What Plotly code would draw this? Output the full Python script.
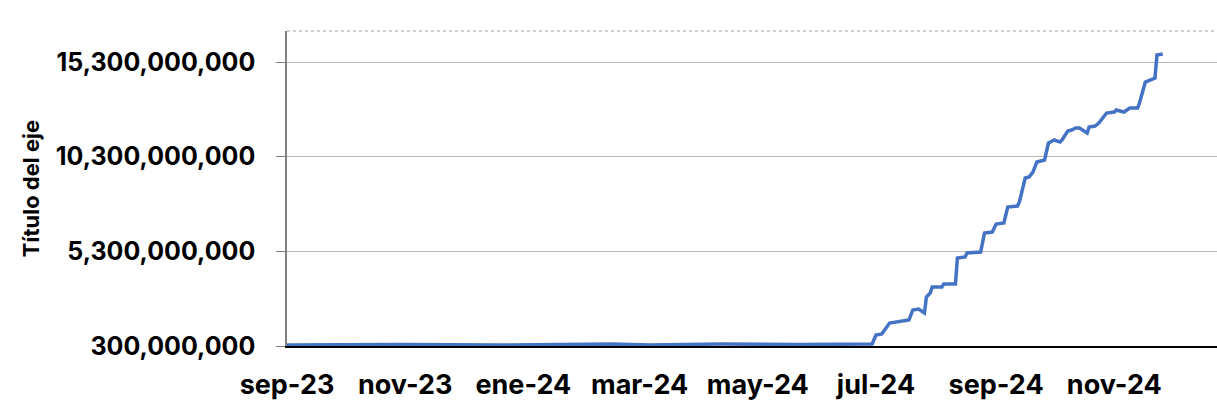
import plotly.graph_objects as go

# ---- data ----
dates = [
    "2023-09-01", "2023-10-29", "2023-12-19", "2024-02-16", "2024-03-06",
    "2024-04-12", "2024-05-22", "2024-06-29",
    "2024-07-01", "2024-07-04", "2024-07-08", "2024-07-12", "2024-07-13",
    "2024-07-18", "2024-07-20", "2024-07-23", "2024-07-26", "2024-07-27",
    "2024-07-29", "2024-07-30", "2024-08-04", "2024-08-05", "2024-08-11",
    "2024-08-12", "2024-08-16", "2024-08-17", "2024-08-24", "2024-08-26",
    "2024-08-30", "2024-09-01", "2024-09-05", "2024-09-07", "2024-09-12",
    "2024-09-13", "2024-09-16", "2024-09-18", "2024-09-20", "2024-09-22",
    "2024-09-26", "2024-09-28", "2024-09-30", "2024-10-01", "2024-10-04",
    "2024-10-05", "2024-10-08", "2024-10-10", "2024-10-12", "2024-10-14",
    "2024-10-18", "2024-10-19", "2024-10-22", "2024-10-24", "2024-10-28",
    "2024-11-01", "2024-11-02", "2024-11-06", "2024-11-09", "2024-11-13",
    "2024-11-14", "2024-11-17", "2024-11-22", "2024-11-23", "2024-11-26",
]
values = [
    353e6, 379e6, 353e6, 406e6, 353e6,
    406e6, 379e6, 406e6,
    881e6, 934e6, 1515e6, 1568e6, 1620e6,
    1673e6, 2202e6, 2254e6, 2043e6, 2888e6,
    3099e6, 3416e6, 3416e6, 3575e6, 3575e6,
    4948e6, 5001e6, 5212e6, 5265e6, 6269e6,
    6321e6, 6744e6, 6797e6, 7642e6, 7695e6,
    7906e6, 9174e6, 9227e6, 9491e6, 10019e6,
    10125e6, 11022e6, 11128e6, 11181e6, 11075e6,
    11181e6, 11656e6, 11709e6, 11815e6, 11815e6,
    11551e6, 11868e6, 11920e6, 12079e6, 12607e6,
    12660e6, 12766e6, 12660e6, 12871e6, 12871e6,
    13135e6, 14244e6, 14456e6, 15671e6, 15723e6,
]

x_tick_vals = ["2023-09-01", "2023-11-01", "2024-01-01", "2024-03-01",
               "2024-05-01", "2024-07-01", "2024-09-01", "2024-11-01"]
x_tick_text = ["sep-23", "nov-23", "ene-24", "mar-24",
               "may-24", "jul-24", "sep-24", "nov-24"]
y_tick_vals = [300_000_000, 5_300_000_000, 10_300_000_000, 15_300_000_000]
y_title = "Título del eje"

FONT = "Inter"

fig = go.Figure()
fig.add_trace(go.Scatter(
    x=dates, y=values, mode="lines",
    line=dict(color="#4472C4", width=3.5),
    showlegend=False,
))

fig.update_layout(
    width=1217, height=407,
    margin=dict(l=287, r=0, t=31, b=61, autoexpand=False),
    paper_bgcolor="white", plot_bgcolor="white",
    font=dict(family=FONT, color="black"),
)

fig.update_xaxes(
    type="date",
    range=["2023-09-01", "2024-12-24"],
    tickvals=x_tick_vals, ticktext=x_tick_text,
    tickfont=dict(family=FONT, size=27, weight=700, color="black"),
    showgrid=False, zeroline=False,
    showline=True, linecolor="black", linewidth=1.5,
    ticks="", ticklabelstandoff=14, automargin=False,
)

fig.update_yaxes(
    range=[300_000_000, 16_940_000_000],
    tickvals=y_tick_vals, tickformat=",d",
    tickfont=dict(family=FONT, size=25, weight=700, color="black"),
    showgrid=True, gridcolor="#B8B8B8", gridwidth=1,
    zeroline=False,
    showline=True, linecolor="#808080", linewidth=1.5,
    ticks="outside", ticklen=9, tickcolor="#808080", tickwidth=1,
    ticklabelstandoff=16, automargin=False,
    title=dict(text=y_title, font=dict(family=FONT, size=22, weight=700, color="black"),
               standoff=10),
)

fig.add_shape(type="line", xref="paper", yref="paper",
              x0=0, x1=1, y0=1, y1=1,
              line=dict(color="#C0C0C0", width=1.5, dash="dot"))

fig.write_html("out.html", config={"displayModeBar": False},
               post_script="document.body.style.margin='0';")
